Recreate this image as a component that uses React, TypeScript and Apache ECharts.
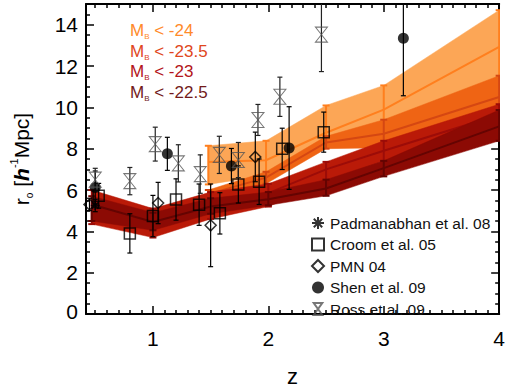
import React, { useEffect, useRef } from "react";
import * as echarts from "echarts";

const FONT = "'Liberation Sans', Arial, Helvetica, sans-serif";

// ---- model bands (z, lower, centre, upper) ----
const band1Z = [1.48, 1.98, 2.5, 3.0, 4.0];
const band1Lo = [6.27, 6.7, 8.1, 8.7, 11.2];
const band1Mid = [7.36, 7.44, 8.77, 9.89, 12.93];
const band1Hi = [8.14, 8.38, 10.09, 11.06, 14.7];

const band2Z = [1.48, 1.98, 2.5, 3.0, 4.0];
const band2Lo = [5.6, 6.3, 8.0, 8.04, 9.5];
const band2Mid = [5.8, 6.6, 8.3, 8.72, 10.5];
const band2Hi = [6.0, 6.88, 8.6, 9.4, 11.53];

const band3Z = [0.47, 1.0, 1.5, 2.0, 2.5, 3.0, 4.0];
const band3Lo = [4.35, 3.7, 4.6, 5.2, 6.4, 7.4, 9.1];
const band3Mid = [5.3, 4.4, 5.3, 5.85, 7.0, 7.9, 9.64];
const band3Hi = [6.0, 5.1, 5.9, 6.3, 7.36, 8.38, 10.15];

const band4Z = [0.47, 1.0, 1.5, 2.0, 2.5, 3.0, 4.0];
const band4Lo = [4.5, 4.05, 4.85, 5.26, 5.72, 6.66, 8.38];
const band4Mid = [5.3, 4.45, 5.2, 5.55, 6.07, 7.06, 9.08];
const band4Hi = [5.7, 4.9, 5.6, 5.9, 6.5, 7.41, 9.87];

// ---- observations ----
const padZ = [0.5];
const padR = [5.25];
const padErr = [0.3];

const croomZ = [0.53, 0.8, 1.0, 1.2, 1.4, 1.58, 1.74, 1.92, 2.12, 2.48];
const croomR = [5.72, 3.9, 4.74, 5.54, 5.29, 4.87, 6.27, 6.4, 7.99, 8.8];
const croomErr = [0.6, 0.95, 1.0, 1.0, 1.0, 1.0, 0.9, 1.1, 1.0, 0.97];

const pmnZ = [0.45, 1.045, 1.5, 1.887];
const pmnR = [5.3, 5.37, 4.29, 7.6];
const pmnErr = [0.3, 1.0, 2.0, 1.2];

const shenZ = [0.5, 1.125, 1.68, 2.18, 3.17];
const shenR = [6.12, 7.75, 7.16, 8.03, 13.34];
const shenErr = [0.8, 0.8, 0.85, 2.0, 2.78];

const rossZ = [0.5, 0.8, 1.02, 1.22, 1.41, 1.575, 1.74, 1.91, 2.1, 2.46];
const rossR = [6.5, 6.43, 8.22, 7.29, 6.77, 7.7, 7.45, 9.39, 10.51, 13.52];
const rossErr = [0.55, 0.66, 0.82, 0.9, 0.93, 0.9, 0.85, 0.75, 0.95, 1.79];

// ---- axes ----
const xMajor = [1, 2, 3, 4];
const yMajor = [0, 2, 4, 6, 8, 10, 12, 14];
const legendTexts = ["-24", "-23.5", "-23", "-22.5"];
const legendColors = ["#ff8a2a", "#e0461c", "#b3141a", "#721a1a"];

const X_MIN = 0.42;
const X_MAX = 4;
const Y_MIN = 0;
const Y_MAX = 15;

function minorTicks(min: number, max: number, step: number, major: number[]) {
  const out: number[] = [];
  const n = Math.round((max - min) / step);
  const start = Math.ceil(min / step - 1e-9);
  for (let k = start; k <= start + n; k++) {
    const v = Math.round(k * step * 100) / 100;
    if (v < min || v > max) continue;
    if (major.indexOf(v) >= 0) continue;
    out.push(v);
  }
  return out;
}

function bandSeries(
  name: string,
  zs: number[],
  lo: number[],
  mid: number[],
  hi: number[],
  fill: string,
  stroke: string,
  zIndex: number
) {
  return {
    type: "custom",
    name,
    xAxisIndex: 0,
    yAxisIndex: 0,
    clip: true,
    z: zIndex,
    silent: true,
    data: zs.map((x, i) => [x, lo[i], mid[i], hi[i]]),
    renderItem: (params: any, api: any) => {
      const i = params.dataIndex;
      const children: any[] = [];
      if (i === 0) {
        const top = zs.map((x, k) => api.coord([x, hi[k]]));
        const bot = zs.map((x, k) => api.coord([x, lo[k]])).reverse();
        children.push({
          type: "polygon",
          shape: { points: top.concat(bot) },
          style: { fill, stroke: fill, lineWidth: 0.5 },
        });
        children.push({
          type: "polyline",
          shape: { points: zs.map((x, k) => api.coord([x, mid[k]])) },
          style: { stroke, lineWidth: 2, fill: null },
        });
      }
      const x = api.value(0);
      const p1 = api.coord([x, api.value(1)]);
      const p2 = api.coord([x, api.value(3)]);
      children.push({
        type: "line",
        shape: { x1: p1[0], y1: p1[1], x2: p2[0], y2: p2[1] },
        style: { stroke, lineWidth: 2 },
      });
      [p1, p2].forEach((p) =>
        children.push({
          type: "line",
          shape: { x1: p[0] - 3.5, y1: p[1], x2: p[0] + 3.5, y2: p[1] },
          style: { stroke, lineWidth: 2 },
        })
      );
      return { type: "group", children };
    },
  };
}

function errSeries(zs: number[], rs: number[], es: number[], color: string) {
  return {
    type: "custom",
    xAxisIndex: 0,
    yAxisIndex: 0,
    clip: true,
    z: 20,
    silent: true,
    data: zs.map((x, i) => [x, rs[i] - es[i], rs[i] + es[i]]),
    renderItem: (_params: any, api: any) => {
      const x = api.value(0);
      const p1 = api.coord([x, api.value(1)]);
      const p2 = api.coord([x, api.value(2)]);
      return {
        type: "group",
        children: [
          { type: "line", shape: { x1: p1[0], y1: p1[1], x2: p2[0], y2: p2[1] }, style: { stroke: color, lineWidth: 1.2 } },
          { type: "line", shape: { x1: p1[0] - 2.5, y1: p1[1], x2: p1[0] + 2.5, y2: p1[1] }, style: { stroke: color, lineWidth: 1.2 } },
          { type: "line", shape: { x1: p2[0] - 2.5, y1: p2[1], x2: p2[0] + 2.5, y2: p2[1] }, style: { stroke: color, lineWidth: 1.2 } },
        ],
      };
    },
  };
}

const ASTER = "path://M5,0L5,10M0,5L10,5M1.5,1.5L8.5,8.5M1.5,8.5L8.5,1.5";
const HOUR = "path://M0,0L10,0L0,14L10,14Z";

function makeAxis(kind: "x" | "y", pos: string, major: boolean, show: boolean) {
  const isX = kind === "x";
  const min = isX ? X_MIN : Y_MIN;
  const max = isX ? X_MAX : Y_MAX;
  const majors = isX ? xMajor : yMajor;
  const ticks = major ? majors : minorTicks(min, max, isX ? 0.1 : 0.5, majors);
  return {
    type: "value",
    position: pos,
    min,
    max,
    axisLine: { show: major, onZero: false, lineStyle: { color: "#000", width: 2 } },
    axisTick: {
      show: true,
      inside: true,
      length: major ? 8 : 4,
      customValues: ticks,
      lineStyle: { color: "#000", width: 1.5 },
    },
    axisLabel: show
      ? {
          show: true,
          customValues: majors,
          fontFamily: FONT,
          fontSize: 21,
          color: "#000",
          margin: isX ? 14 : 8,
          formatter: (v: number) => (!isX && v === 0 ? "{z|0}" : String(v)),
          rich: { z: { fontFamily: FONT, fontSize: 21, color: "#000", padding: [0, 0, 6, 0] } },
        }
      : { show: false },
    splitLine: { show: false },
  };
}

export default function App() {
  const ref = useRef<HTMLDivElement>(null);
  useEffect(() => {
    if (!ref.current) return;
    const chart = echarts.init(ref.current, null, { renderer: "svg" });

    const xAxes: any[] = [
      { ...makeAxis("x", "bottom", true, true), name: "z", nameLocation: "middle", nameGap: 51, nameTextStyle: { fontFamily: FONT, fontSize: 22, color: "#000" } },
      makeAxis("x", "bottom", false, false),
      makeAxis("x", "top", true, false),
      makeAxis("x", "top", false, false),
    ];
    const yAxes: any[] = [
      {
        ...makeAxis("y", "left", true, true),
        name: "{r|r}{s|o}{r| [}{h|h}{p|-1}{r|Mpc]}",
        nameLocation: "middle",
        nameRotate: 90,
        nameGap: 52,
        nameTextStyle: {
          rich: {
            r: { fontFamily: FONT, fontSize: 21, color: "#000", lineHeight: 26 },
            s: { fontFamily: FONT, fontSize: 10, color: "#000", verticalAlign: "bottom", lineHeight: 12 },
            h: { fontFamily: FONT, fontSize: 21, fontWeight: "bold", fontStyle: "italic", color: "#000", lineHeight: 26 },
            p: { fontFamily: FONT, fontSize: 11, color: "#000", verticalAlign: "top", lineHeight: 12 },
          },
        },
      },
      makeAxis("y", "left", false, false),
      makeAxis("y", "right", true, false),
      makeAxis("y", "right", false, false),
    ];

    const markerStyle = (fill: string, border: string, bw: number) => ({
      color: fill,
      borderColor: border,
      borderWidth: bw,
    });

    const option: any = {
      animation: false,
      backgroundColor: "#fff",
      grid: { left: 86, right: 4, top: 4, bottom: 68, containLabel: false },
      xAxis: xAxes,
      yAxis: yAxes,
      legend: {
        orient: "vertical",
        left: 311,
        top: 215,
        padding: 0,
        itemWidth: 12,
        itemHeight: 12,
        itemGap: 5.5,
        selectedMode: false,
        textStyle: { fontFamily: FONT, fontSize: 15.5, color: "#111", padding: [0, 0, 0, 1] },
        data: ["Padmanabhan et al. 08", "Croom et al. 05", "PMN 04", "Shen et al. 09", "Ross et al. 09"],
      },
      graphic: legendTexts.map((t, i) => ({
        type: "text",
        left: 130,
        top: 22 + i * 20.7,
        silent: true,
        style: {
          text: `{m|M}{b|B}{m| < ${t}}`,
          rich: {
            m: { fontFamily: FONT, fontSize: 17, fill: legendColors[i], lineHeight: 20 },
            b: { fontFamily: FONT, fontSize: 8, fill: legendColors[i], verticalAlign: "bottom", lineHeight: 10 },
          },
        },
      })),
      series: [
        bandSeries("b1", band1Z, band1Lo, band1Mid, band1Hi, "#fca656", "#ff7f1e", 1),
        bandSeries("b2", band2Z, band2Lo, band2Mid, band2Hi, "#ef6414", "#d54712", 2),
        bandSeries("b3", band3Z, band3Lo, band3Mid, band3Hi, "#ba1a08", "#9c0c08", 3),
        bandSeries("b4", band4Z, band4Lo, band4Mid, band4Hi, "#8c0a04", "#640402", 4),
        errSeries(padZ, padR, padErr, "#000"),
        errSeries(croomZ, croomR, croomErr, "#000"),
        errSeries(pmnZ, pmnR, pmnErr, "#000"),
        errSeries(shenZ, shenR, shenErr, "#000"),
        errSeries(rossZ, rossR, rossErr, "#222"),
        {
          type: "scatter",
          name: "Padmanabhan et al. 08",
          data: padZ.map((z, i) => [z, padR[i]]),
          symbol: ASTER,
          symbolSize: 9,
          itemStyle: markerStyle("rgba(0,0,0,0)", "#000", 1.5),
          z: 30,
        },
        {
          type: "scatter",
          name: "Croom et al. 05",
          data: croomZ.map((z, i) => [z, croomR[i]]),
          symbol: "rect",
          symbolSize: 11,
          itemStyle: markerStyle("rgba(0,0,0,0)", "#000", 1.5),
          z: 30,
        },
        {
          type: "scatter",
          name: "PMN 04",
          data: pmnZ.map((z, i) => [z, pmnR[i]]),
          symbol: "diamond",
          symbolSize: 11,
          itemStyle: markerStyle("rgba(0,0,0,0)", "#000", 1.5),
          z: 30,
        },
        {
          type: "scatter",
          name: "Shen et al. 09",
          data: shenZ.map((z, i) => [z, shenR[i]]),
          symbol: "circle",
          symbolSize: 11,
          itemStyle: markerStyle("#000", "#000", 0),
          z: 30,
        },
        {
          type: "scatter",
          name: "Ross et al. 09",
          data: rossZ.map((z, i) => [z, rossR[i]]),
          symbol: HOUR,
          symbolSize: [12, 15],
          itemStyle: markerStyle("rgba(0,0,0,0)", "#555", 1),
          z: 30,
        },
      ],
    };
    chart.setOption(option);
    return () => chart.dispose();
  }, []);
  return (
    <div
      ref={ref}
      style={{ position: "absolute", left: 0, top: 0, width: 508, height: 392, background: "#fff" }}
    />
  );
}
